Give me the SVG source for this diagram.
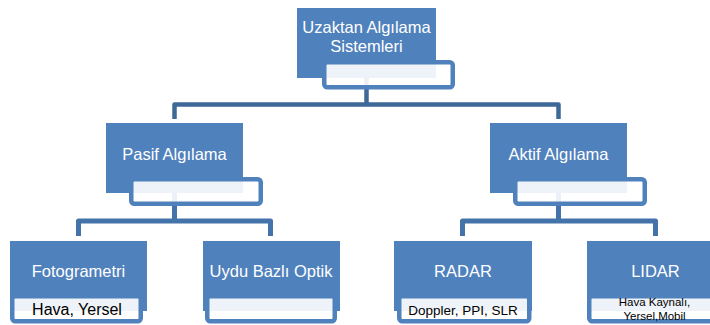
<svg xmlns="http://www.w3.org/2000/svg" width="710" height="325" viewBox="0 0 710 325">
<style>
.box{fill:#4f81bd}
.sub{fill:#ffffff;fill-opacity:0.9;stroke:#4f81bd;stroke-width:4.5}
.con{fill:none;stroke:#4473aa;stroke-width:5;stroke-linejoin:round}
.con0{fill:none;stroke:#3e6898;stroke-width:4.5;stroke-linejoin:round}
.t{font-family:"Liberation Sans",Arial,sans-serif;font-size:16.5px;fill:#ffffff;text-anchor:middle}
.s{font-family:"Liberation Sans",Arial,sans-serif;fill:#000000;text-anchor:middle}
</style>
<rect width="710" height="325" fill="#ffffff"/>
<g id="connectors">
<path class="con0" d="M366.5 78 V104.5 M174.5 119 V104.5 H558.5 V119"/>
<path class="con" d="M174.5 193 V221 M78.5 236 V221 H270.5 V236"/>
<path class="con" d="M558.5 193 V221 M462.5 236 V221 H655.5 V236"/>
</g>
<g id="node-uzaktan">
<rect class="box" x="297" y="8" width="139" height="70"/>
<rect class="sub" x="324.25" y="62.25" width="128.5" height="25" rx="3"/>
<text class="t" x="366.5" y="33">Uzaktan Algılama</text>
<text class="t" x="366.5" y="52">Sistemleri</text>
</g>
<g id="node-pasif">
<rect class="box" x="106" y="123" width="137" height="70"/>
<rect class="sub" x="131.25" y="179.25" width="129.5" height="24.5" rx="3"/>
<text class="t" x="174.5" y="160">Pasif Algılama</text>
</g>
<g id="node-aktif">
<rect class="box" x="490" y="123" width="137" height="70"/>
<rect class="sub" x="515.25" y="179.25" width="129.5" height="24.5" rx="3"/>
<text class="t" x="558.5" y="160">Aktif Algılama</text>
</g>
<g id="node-fotogrametri">
<rect class="box" x="10" y="241" width="137" height="70"/>
<rect class="sub" x="12.25" y="296.25" width="128.5" height="25" rx="3"/>
<text class="t" x="78.5" y="277">Fotogrametri</text>
<text class="s" x="77" y="315" font-size="16">Hava, Yersel</text>
</g>
<g id="node-uydu">
<rect class="box" x="203" y="241" width="137" height="70"/>
<rect class="sub" x="207.25" y="296.25" width="127.5" height="25" rx="3"/>
<text class="t" x="271" y="277">Uydu Bazlı Optik</text>
</g>
<g id="node-radar">
<rect class="box" x="394" y="241" width="138" height="70"/>
<rect class="sub" x="399.25" y="296.25" width="130" height="25" rx="3"/>
<text class="t" x="463" y="277">RADAR</text>
<text class="s" x="463" y="315" font-size="13.5">Doppler, PPI, SLR</text>
</g>
<g id="node-lidar">
<rect class="box" x="587" y="241" width="137" height="70"/>
<rect class="sub" x="589.25" y="296.25" width="135" height="25" rx="3"/>
<text class="t" x="655.5" y="277">LIDAR</text>
<text class="s" x="654.5" y="306" font-size="11.5">Hava Kaynalı,</text>
<text class="s" x="654.5" y="320" font-size="11.5">Yersel,Mobil</text>
</g>
</svg>
